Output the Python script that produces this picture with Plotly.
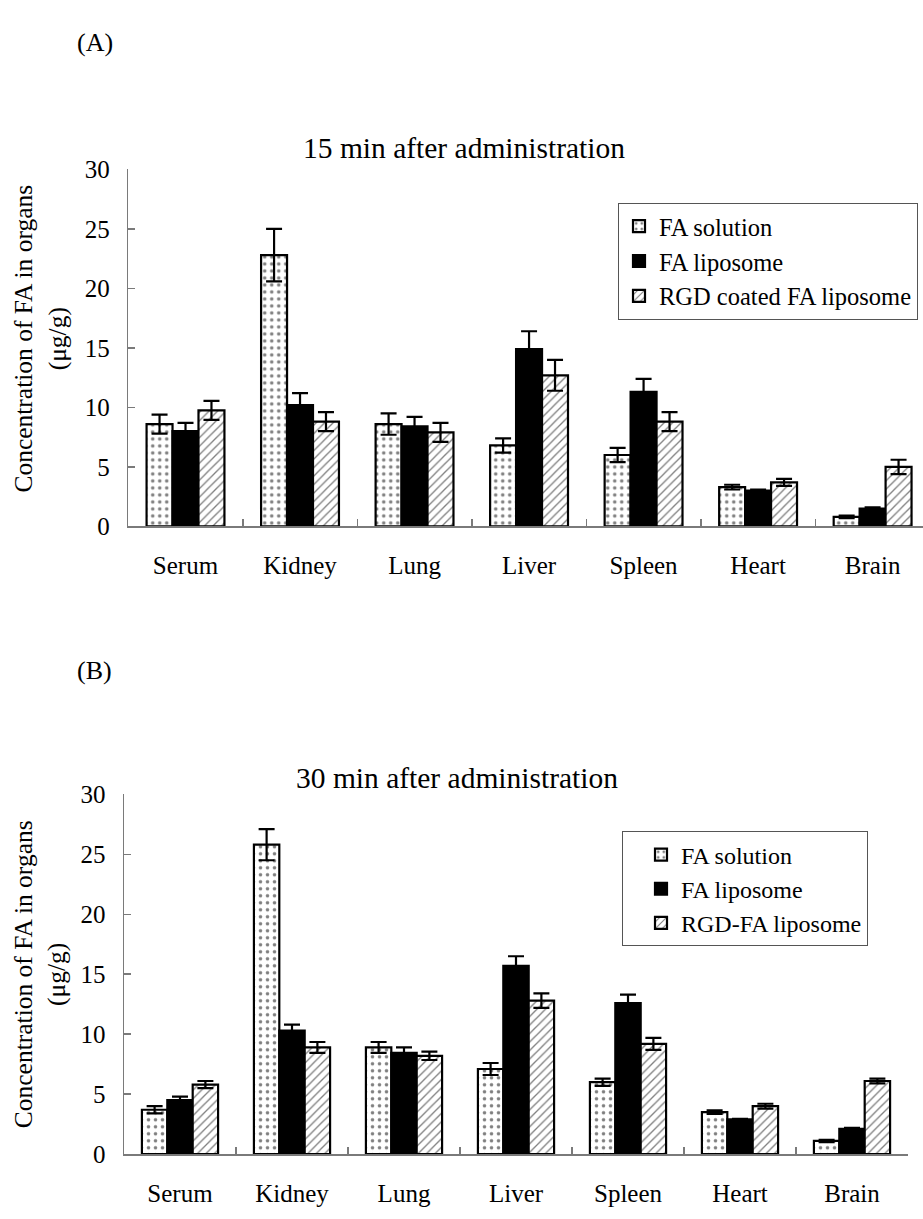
import plotly.graph_objects as go

W, H = 923, 1219

organs = ["Serum", "Kidney", "Lung", "Liver", "Spleen", "Heart", "Brain"]

# Panel A: 15 min
a_solution = [8.6, 22.8, 8.6, 6.8, 6.0, 3.3, 0.8]
a_solution_err = [0.8, 2.2, 0.9, 0.6, 0.6, 0.2, 0.1]
a_liposome = [8.0, 10.2, 8.4, 14.9, 11.3, 3.0, 1.5]
a_liposome_err = [0.7, 1.0, 0.8, 1.5, 1.1, 0.1, 0.1]
a_rgd = [9.75, 8.8, 7.9, 12.7, 8.8, 3.7, 5.0]
a_rgd_err = [0.8, 0.8, 0.8, 1.3, 0.8, 0.3, 0.6]

# Panel B: 30 min
b_solution = [3.7, 25.8, 8.9, 7.1, 6.0, 3.5, 1.1]
b_solution_err = [0.3, 1.3, 0.45, 0.5, 0.3, 0.15, 0.1]
b_liposome = [4.5, 10.3, 8.45, 15.7, 12.6, 2.9, 2.1]
b_liposome_err = [0.3, 0.5, 0.45, 0.8, 0.7, 0.05, 0.1]
b_rgd = [5.8, 8.9, 8.2, 12.8, 9.2, 4.0, 6.1]
b_rgd_err = [0.3, 0.45, 0.35, 0.6, 0.5, 0.2, 0.2]

names_a = ["FA solution", "FA liposome", "RGD coated FA liposome"]
names_b = ["FA solution", "FA liposome", "RGD-FA liposome"]

FONT = "Liberation Serif, Times New Roman, serif"
AXC = "#7a7a7a"

styles = [
    dict(color="white", pattern=dict(shape=".", fgcolor="black", bgcolor="white", size=7, solidity=0.2)),
    dict(color="black"),
    dict(color="white", pattern=dict(shape="/", fgcolor="black", bgcolor="white", size=6, solidity=0.22)),
]

fig = go.Figure()


def add_panel(vals, errs, names, xa, ya, legend):
    for v, e, n, st in zip(vals, errs, names, styles):
        marker = dict(st)
        marker["line"] = dict(color="black", width=2.2)
        fig.add_trace(go.Bar(
            x=organs, y=v, name=n, marker=marker,
            error_y=dict(type="data", array=e, visible=True, color="black", thickness=2.2, width=8),
            xaxis=xa, yaxis=ya, legend=legend,
        ))


add_panel([a_solution, a_liposome, a_rgd], [a_solution_err, a_liposome_err, a_rgd_err], names_a, "x", "y", "legend")
add_panel([b_solution, b_liposome, b_rgd], [b_solution_err, b_liposome_err, b_rgd_err], names_b, "x2", "y2", "legend2")

xcommon = dict(type="category", showline=True, linecolor=AXC, linewidth=1.5,
               ticks="inside", tickson="boundaries", ticklen=7, tickcolor=AXC, tickwidth=1.5,
               showgrid=False, zeroline=False, ticklabelstandoff=16,
               tickfont=dict(family=FONT, size=25, color="black"), fixedrange=True)
ycommon = dict(range=[0, 30], dtick=5, showline=True, linecolor=AXC, linewidth=1.5,
               ticks="inside", ticklen=7, tickcolor=AXC, tickwidth=1.5,
               showgrid=False, zeroline=False, ticklabelstandoff=12,
               tickfont=dict(family=FONT, size=25, color="black"))

yA0, yA30 = 525, 160
yB0, yB30 = 1167, 799

fig.update_layout(
    width=W, height=H, margin=dict(l=0, r=0, t=0, b=0),
    paper_bgcolor="white", plot_bgcolor="white",
    barmode="group", bargap=0.32, bargroupgap=0,
    font=dict(family=FONT, color="black"),
    xaxis=dict(xcommon, domain=[128.25 / W, 1.0], range=[-0.5, 6.44], anchor="y"),
    yaxis=dict(ycommon, domain=[(H - yA0) / H, (H - yA30) / H], anchor="x"),
    xaxis2=dict(xcommon, domain=[124 / W, 908 / W], range=[-0.5, 6.5], anchor="y2"),
    yaxis2=dict(ycommon, domain=[(H - yB0) / H, (H - yB30) / H], anchor="x2"),
    legend=dict(x=618 / W, y=(H - 194) / H, xanchor="left", yanchor="top",
                bordercolor="#555", borderwidth=1, bgcolor="white",
                font=dict(family=FONT, size=24.5, color="black"), itemclick=False),
    legend2=dict(x=622 / W, y=(H - 837) / H, xanchor="left", yanchor="top",
                 bordercolor="#555", borderwidth=1, bgcolor="white", indentation=18,
                 entrywidth=215, entrywidthmode="pixels",
                 font=dict(family=FONT, size=24, color="black"), itemclick=False),
    showlegend=True,
)

ann = [
    dict(text="(A)", x=95 / W, y=(H - 30) / H, size=26),
    dict(text="(B)", x=94 / W, y=(H - 672) / H, size=26),
    dict(text="15 min after administration", x=464 / W, y=(H - 138) / H, size=29.5),
    dict(text="30 min after administration", x=457 / W, y=(H - 782) / H, size=29.5),
]
for a in ann:
    fig.add_annotation(text=a["text"], x=a["x"], y=a["y"], xref="paper", yref="paper",
                       showarrow=False, xanchor="center", yanchor="middle",
                       font=dict(family=FONT, size=a["size"], color="black"))

for yc in [(H - 333) / H, (H - 983) / H]:
    fig.add_annotation(text="Concentration of FA in organs<br>(μg/g)", x=40 / W, y=yc,
                       xref="paper", yref="paper", showarrow=False, textangle=-90,
                       xanchor="center", yanchor="middle",
                       font=dict(family=FONT, size=25.5, color="black"))

fig.write_html("out.html", config={"displayModeBar": False, "staticPlot": True},
               post_script="document.body.style.margin='0';document.body.style.overflow='hidden';")
